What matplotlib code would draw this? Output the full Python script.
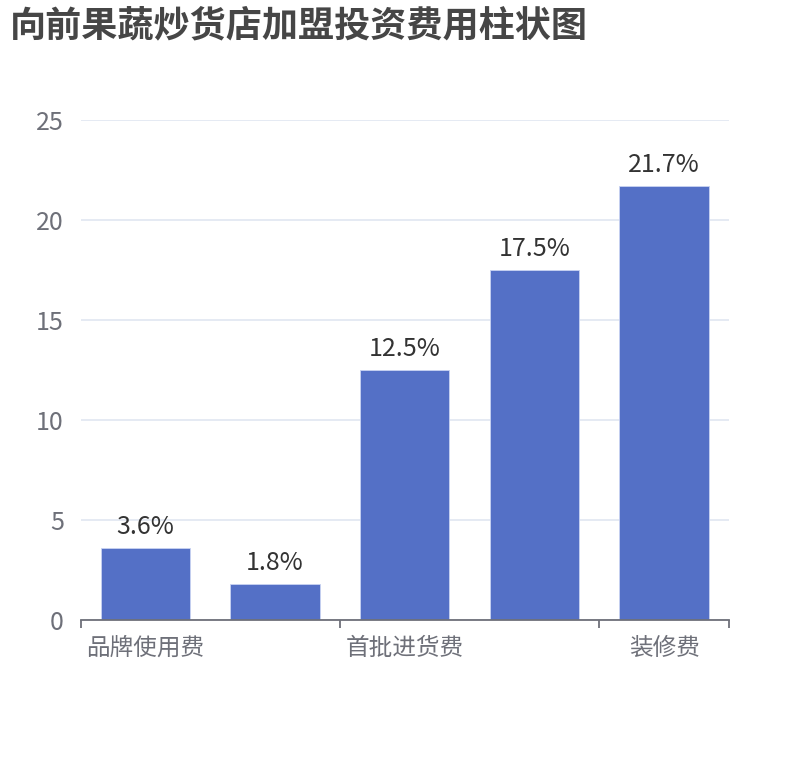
import matplotlib
matplotlib.use("Agg")
import matplotlib.pyplot as plt
from matplotlib.ticker import FixedLocator

plt.rcParams['font.family'] = ['Noto Sans CJK SC', 'DejaVu Sans']

title = "向前果蔬炒货店加盟投资费用柱状图"
categories = ["品牌使用费", "加盟保证金", "首批进货费", "设备费", "装修费"]
values = [3.6, 1.8, 12.5, 17.5, 21.7]
labels = ["3.6%", "1.8%", "12.5%", "17.5%", "21.7%"]
yticks = [0, 5, 10, 15, 20, 25]

W, H = 810, 760
fig = plt.figure(figsize=(W / 100, H / 100), dpi=100)
ax = fig.add_axes([80.5 / W, (H - 620) / H, (729 - 80.5) / W, 500 / H])

x = list(range(len(categories)))
ax.bar(x, values, width=0.69, color="#5470C6", edgecolor="#c9d3f2", linewidth=0.6, zorder=3)
for xi, v, lb in zip(x, values, labels):
    ax.annotate(lb, (xi, v), xytext=(0, 6), textcoords="offset points",
                ha="center", va="bottom", fontsize=18, color="#333333", zorder=4)

ax.set_xlim(-0.5, len(categories) - 0.5)
ax.set_ylim(0, 25)
ax.set_yticks(yticks)
ax.set_yticklabels([str(t) for t in yticks])
ax.grid(axis="y", color="#E0E6F1", linewidth=1.2, zorder=0)
ax.set_axisbelow(True)

shown = [0, 2, 4]
ax.xaxis.set_major_locator(FixedLocator(shown))
ax.set_xticklabels([categories[i] for i in shown])
ax.xaxis.set_minor_locator(FixedLocator([-0.5, 1.5, 3.5, 4.5]))
ax.tick_params(axis="x", which="major", length=0, pad=12, labelsize=17, labelcolor="#6E7079")
ax.tick_params(axis="x", which="minor", length=6, width=1.3, color="#6E7079")
ax.tick_params(axis="y", length=0, pad=12, labelsize=18, labelcolor="#6E7079")

for s in ["top", "right", "left"]:
    ax.spines[s].set_visible(False)
ax.spines["bottom"].set_color("#6E7079")
ax.spines["bottom"].set_linewidth(1.3)
ax.spines["bottom"].set_zorder(5)

fig.text(10 / W, 1 - 26 / H, title, fontsize=26, fontweight="bold", color="#464646",
         ha="left", va="center")

fig.savefig("out.png", dpi=100, facecolor="white")
